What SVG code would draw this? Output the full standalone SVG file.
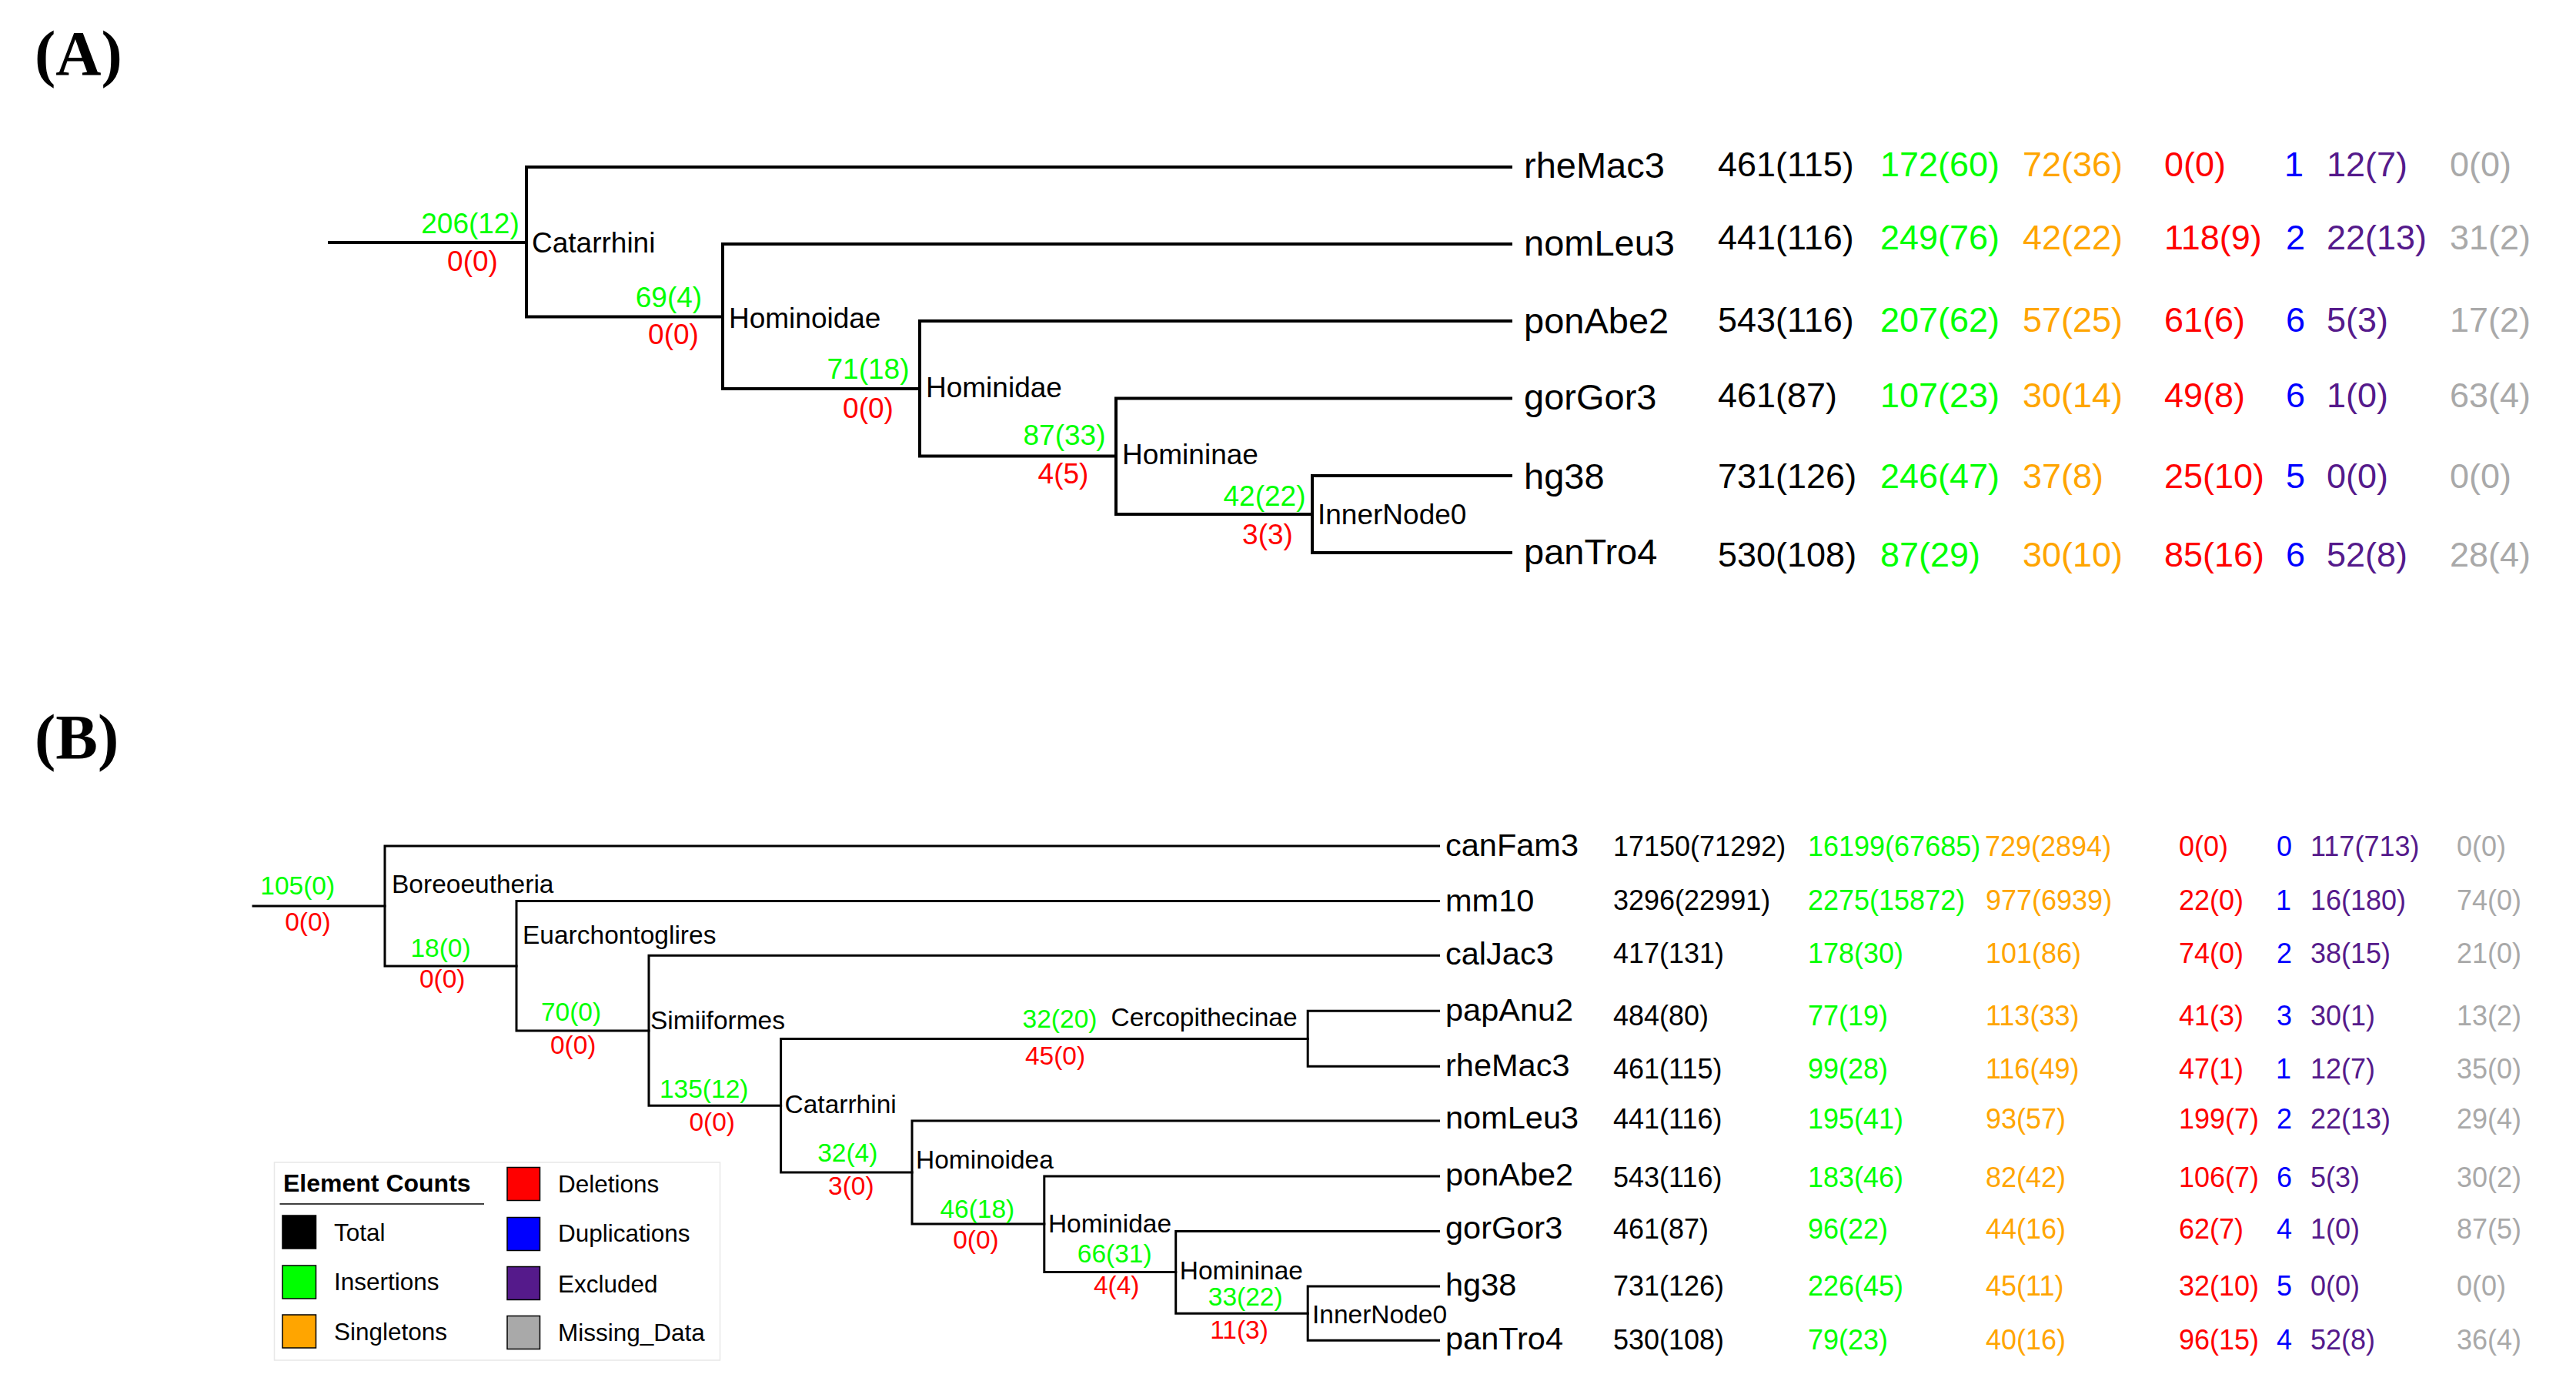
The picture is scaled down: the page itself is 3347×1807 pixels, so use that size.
<svg xmlns="http://www.w3.org/2000/svg" width="3347" height="1807" viewBox="0 0 3347 1807">
<style>
text{font-family:"Liberation Sans",Arial,sans-serif}
.ttl{font-family:"Liberation Serif","Times New Roman",serif;font-weight:bold;font-size:82px;fill:#000}
.ea{stroke:#000;stroke-width:4;fill:none;stroke-linecap:square}
.eb{stroke:#000;stroke-width:3;fill:none;stroke-linecap:square}
.ina{font-size:37px;fill:#000}
.cga{font-size:37px;fill:#00ff00;text-anchor:middle}
.cra{font-size:37px;fill:#ff0000;text-anchor:middle}
.tipa{font-size:47px;fill:#000}
.numa{font-size:45px}
.inb{font-size:33.5px;fill:#000}
.cgb{font-size:33.5px;fill:#00ff00;text-anchor:middle}
.crb{font-size:33.5px;fill:#ff0000;text-anchor:middle}
.tipb{font-size:41.5px;fill:#000}
.numb{font-size:36px}
.k{fill:#000}.g{fill:#00ff00}.o{fill:#ffa500}.r{fill:#ff0000}.b{fill:#0000ff}.p{fill:#551a8b}.y{fill:#a9a9a9}
.lg{font-size:31.5px;fill:#000}
.sw{stroke:#000;stroke-width:1.5}
</style>
<text class="ttl" x="45" y="97">(A)</text>
<text class="ttl" x="45" y="985">(B)</text>

<g id="connectorsA">
<path class="ea" d="M428,315H684"/>
<path class="ea" d="M684,217V411.5M684,217H1963M684,411.5H939"/>
<path class="ea" d="M939,317V505M939,317H1963M939,505H1195"/>
<path class="ea" d="M1195,417V592.5M1195,417H1963M1195,592.5H1450"/>
<path class="ea" d="M1450,517.5V668M1450,517.5H1963M1450,668H1705"/>
<path class="ea" d="M1705,618V718M1705,618H1963M1705,718H1963"/>
</g>

<g id="A-root">
<text class="cga" x="611" y="302.5">206(12)</text>
<text class="cra" x="614" y="352">0(0)</text>
</g>
<g id="A-Catarrhini">
<text class="ina" x="691" y="327.5">Catarrhini</text>
<text class="cga" x="869" y="398.5">69(4)</text>
<text class="cra" x="875" y="447">0(0)</text>
</g>
<g id="A-Hominoidae">
<text class="ina" x="947" y="426">Hominoidae</text>
<text class="cga" x="1128" y="492">71(18)</text>
<text class="cra" x="1128" y="543">0(0)</text>
</g>
<g id="A-Hominidae">
<text class="ina" x="1203" y="516">Hominidae</text>
<text class="cga" x="1383" y="577.5">87(33)</text>
<text class="cra" x="1381.5" y="628">4(5)</text>
</g>
<g id="A-Homininae">
<text class="ina" x="1458" y="603">Homininae</text>
<text class="cga" x="1643" y="657">42(22)</text>
<text class="cra" x="1647" y="707">3(3)</text>
</g>
<g id="A-InnerNode0">
<text class="ina" x="1712" y="680.5">InnerNode0</text>
</g>

<g id="A-rheMac3">
<text class="tipa" x="1980" y="231">rheMac3</text>
<text class="numa" y="228.5"><tspan class="k" x="2232">461(115)</tspan><tspan class="g" x="2443">172(60)</tspan><tspan class="o" x="2628">72(36)</tspan><tspan class="r" x="2812">0(0)</tspan><tspan class="b" x="2968">1</tspan><tspan class="p" x="3023">12(7)</tspan><tspan class="y" x="3183">0(0)</tspan></text>
</g>
<g id="A-nomLeu3">
<text class="tipa" x="1980" y="331.5">nomLeu3</text>
<text class="numa" y="323.5"><tspan class="k" x="2232">441(116)</tspan><tspan class="g" x="2443">249(76)</tspan><tspan class="o" x="2628">42(22)</tspan><tspan class="r" x="2812">118(9)</tspan><tspan class="b" x="2970">2</tspan><tspan class="p" x="3023">22(13)</tspan><tspan class="y" x="3183">31(2)</tspan></text>
</g>
<g id="A-ponAbe2">
<text class="tipa" x="1980" y="432.5">ponAbe2</text>
<text class="numa" y="431"><tspan class="k" x="2232">543(116)</tspan><tspan class="g" x="2443">207(62)</tspan><tspan class="o" x="2628">57(25)</tspan><tspan class="r" x="2812">61(6)</tspan><tspan class="b" x="2970">6</tspan><tspan class="p" x="3023">5(3)</tspan><tspan class="y" x="3183">17(2)</tspan></text>
</g>
<g id="A-gorGor3">
<text class="tipa" x="1980" y="531.5">gorGor3</text>
<text class="numa" y="528.5"><tspan class="k" x="2232">461(87)</tspan><tspan class="g" x="2443">107(23)</tspan><tspan class="o" x="2628">30(14)</tspan><tspan class="r" x="2812">49(8)</tspan><tspan class="b" x="2970">6</tspan><tspan class="p" x="3023">1(0)</tspan><tspan class="y" x="3183">63(4)</tspan></text>
</g>
<g id="A-hg38">
<text class="tipa" x="1980" y="635">hg38</text>
<text class="numa" y="633.5"><tspan class="k" x="2232">731(126)</tspan><tspan class="g" x="2443">246(47)</tspan><tspan class="o" x="2628">37(8)</tspan><tspan class="r" x="2812">25(10)</tspan><tspan class="b" x="2970">5</tspan><tspan class="p" x="3023">0(0)</tspan><tspan class="y" x="3183">0(0)</tspan></text>
</g>
<g id="A-panTro4">
<text class="tipa" x="1980" y="732.5">panTro4</text>
<text class="numa" y="736"><tspan class="k" x="2232">530(108)</tspan><tspan class="g" x="2443">87(29)</tspan><tspan class="o" x="2628">30(10)</tspan><tspan class="r" x="2812">85(16)</tspan><tspan class="b" x="2970">6</tspan><tspan class="p" x="3023">52(8)</tspan><tspan class="y" x="3183">28(4)</tspan></text>
</g>

<g id="connectorsB">
<path class="eb" d="M329,1177H500"/>
<path class="eb" d="M500,1099V1255M500,1099H1869.5M500,1255H671"/>
<path class="eb" d="M671,1170.5V1339M671,1170.5H1869.5M671,1339H843"/>
<path class="eb" d="M843,1241.3V1436.3M843,1241.3H1869.5M843,1436.3H1014.6"/>
<path class="eb" d="M1014.6,1349.5V1523M1014.6,1349.5H1699.2M1014.6,1523H1185"/>
<path class="eb" d="M1699.2,1313.3V1385.2M1699.2,1313.3H1869.5M1699.2,1385.2H1869.5"/>
<path class="eb" d="M1185,1456V1590M1185,1456H1869.5M1185,1590H1356.8"/>
<path class="eb" d="M1356.8,1528V1652.5M1356.8,1528H1869.5M1356.8,1652.5H1527.7"/>
<path class="eb" d="M1527.7,1599.5V1706.3M1527.7,1599.5H1869.5M1527.7,1706.3H1699.2"/>
<path class="eb" d="M1699.2,1671V1741.3M1699.2,1671H1869.5M1699.2,1741.3H1869.5"/>
</g>

<g id="B-root">
<text class="cgb" x="386.7" y="1162.3">105(0)</text>
<text class="crb" x="400" y="1209.3">0(0)</text>
</g>
<g id="B-Boreoeutheria">
<text class="inb" x="509" y="1160">Boreoeutheria</text>
<text class="cgb" x="572.5" y="1242.7">18(0)</text>
<text class="crb" x="574.7" y="1283.3">0(0)</text>
</g>
<g id="B-Euarchontoglires">
<text class="inb" x="679" y="1226">Euarchontoglires</text>
<text class="cgb" x="742" y="1326">70(0)</text>
<text class="crb" x="744.7" y="1369.3">0(0)</text>
</g>
<g id="B-Simiiformes">
<text class="inb" x="845" y="1336.7">Simiiformes</text>
<text class="cgb" x="914.7" y="1426">135(12)</text>
<text class="crb" x="925.2" y="1469.4">0(0)</text>
</g>
<g id="B-Catarrhini">
<text class="inb" x="1019.5" y="1446.4">Catarrhini</text>
<text class="cgb" x="1377" y="1335.2">32(20)</text>
<text class="crb" x="1371" y="1382.7">45(0)</text>
<text class="cgb" x="1101.3" y="1509">32(4)</text>
<text class="crb" x="1105.8" y="1552">3(0)</text>
</g>
<g id="B-Cercopithecinae">
<text class="inb" x="1443.5" y="1332.7">Cercopithecinae</text>
</g>
<g id="B-Hominoidea">
<text class="inb" x="1190" y="1518">Hominoidea</text>
<text class="cgb" x="1269.8" y="1581.6">46(18)</text>
<text class="crb" x="1268" y="1622.4">0(0)</text>
</g>
<g id="B-Hominidae">
<text class="inb" x="1361.9" y="1601">Hominidae</text>
<text class="cgb" x="1448.2" y="1640.3">66(31)</text>
<text class="crb" x="1450.7" y="1681">4(4)</text>
</g>
<g id="B-Homininae">
<text class="inb" x="1532.8" y="1661.7">Homininae</text>
<text class="cgb" x="1618.2" y="1696.4">33(22)</text>
<text class="crb" x="1610" y="1738.8">11(3)</text>
</g>
<g id="B-InnerNode0">
<text class="inb" x="1705" y="1719.4">InnerNode0</text>
</g>

<g id="B-canFam3">
<text class="tipb" x="1878" y="1112">canFam3</text>
<text class="numb" y="1112"><tspan class="k" x="2096">17150(71292)</tspan><tspan class="g" x="2349">16199(67685)</tspan><tspan class="o" x="2579">729(2894)</tspan><tspan class="r" x="2831">0(0)</tspan><tspan class="b" x="2958">0</tspan><tspan class="p" x="3002">117(713)</tspan><tspan class="y" x="3192">0(0)</tspan></text>
</g>
<g id="B-mm10">
<text class="tipb" x="1878" y="1183.5">mm10</text>
<text class="numb" y="1181.5"><tspan class="k" x="2096">3296(22991)</tspan><tspan class="g" x="2349">2275(15872)</tspan><tspan class="o" x="2580">977(6939)</tspan><tspan class="r" x="2831">22(0)</tspan><tspan class="b" x="2957">1</tspan><tspan class="p" x="3002">16(180)</tspan><tspan class="y" x="3192">74(0)</tspan></text>
</g>
<g id="B-calJac3">
<text class="tipb" x="1878" y="1252.5">calJac3</text>
<text class="numb" y="1250.5"><tspan class="k" x="2096">417(131)</tspan><tspan class="g" x="2349">178(30)</tspan><tspan class="o" x="2580">101(86)</tspan><tspan class="r" x="2831">74(0)</tspan><tspan class="b" x="2958">2</tspan><tspan class="p" x="3002">38(15)</tspan><tspan class="y" x="3192">21(0)</tspan></text>
</g>
<g id="B-papAnu2">
<text class="tipb" x="1878" y="1325.5">papAnu2</text>
<text class="numb" y="1331.5"><tspan class="k" x="2096">484(80)</tspan><tspan class="g" x="2349">77(19)</tspan><tspan class="o" x="2580">113(33)</tspan><tspan class="r" x="2831">41(3)</tspan><tspan class="b" x="2958">3</tspan><tspan class="p" x="3002">30(1)</tspan><tspan class="y" x="3192">13(2)</tspan></text>
</g>
<g id="B-rheMac3">
<text class="tipb" x="1878" y="1398">rheMac3</text>
<text class="numb" y="1400.5"><tspan class="k" x="2096">461(115)</tspan><tspan class="g" x="2349">99(28)</tspan><tspan class="o" x="2580">116(49)</tspan><tspan class="r" x="2831">47(1)</tspan><tspan class="b" x="2957">1</tspan><tspan class="p" x="3002">12(7)</tspan><tspan class="y" x="3192">35(0)</tspan></text>
</g>
<g id="B-nomLeu3">
<text class="tipb" x="1878" y="1466">nomLeu3</text>
<text class="numb" y="1466"><tspan class="k" x="2096">441(116)</tspan><tspan class="g" x="2349">195(41)</tspan><tspan class="o" x="2580">93(57)</tspan><tspan class="r" x="2831">199(7)</tspan><tspan class="b" x="2958">2</tspan><tspan class="p" x="3002">22(13)</tspan><tspan class="y" x="3192">29(4)</tspan></text>
</g>
<g id="B-ponAbe2">
<text class="tipb" x="1878" y="1539.5">ponAbe2</text>
<text class="numb" y="1541.5"><tspan class="k" x="2096">543(116)</tspan><tspan class="g" x="2349">183(46)</tspan><tspan class="o" x="2580">82(42)</tspan><tspan class="r" x="2831">106(7)</tspan><tspan class="b" x="2958">6</tspan><tspan class="p" x="3002">5(3)</tspan><tspan class="y" x="3192">30(2)</tspan></text>
</g>
<g id="B-gorGor3">
<text class="tipb" x="1878" y="1609">gorGor3</text>
<text class="numb" y="1609"><tspan class="k" x="2096">461(87)</tspan><tspan class="g" x="2349">96(22)</tspan><tspan class="o" x="2580">44(16)</tspan><tspan class="r" x="2831">62(7)</tspan><tspan class="b" x="2958">4</tspan><tspan class="p" x="3002">1(0)</tspan><tspan class="y" x="3192">87(5)</tspan></text>
</g>
<g id="B-hg38">
<text class="tipb" x="1878" y="1682.5">hg38</text>
<text class="numb" y="1682.5"><tspan class="k" x="2096">731(126)</tspan><tspan class="g" x="2349">226(45)</tspan><tspan class="o" x="2580">45(11)</tspan><tspan class="r" x="2831">32(10)</tspan><tspan class="b" x="2958">5</tspan><tspan class="p" x="3002">0(0)</tspan><tspan class="y" x="3192">0(0)</tspan></text>
</g>
<g id="B-panTro4">
<text class="tipb" x="1878" y="1752.5">panTro4</text>
<text class="numb" y="1752.5"><tspan class="k" x="2096">530(108)</tspan><tspan class="g" x="2349">79(23)</tspan><tspan class="o" x="2580">40(16)</tspan><tspan class="r" x="2831">96(15)</tspan><tspan class="b" x="2958">4</tspan><tspan class="p" x="3002">52(8)</tspan><tspan class="y" x="3192">36(4)</tspan></text>
</g>

<g id="legend">
<rect x="356.5" y="1510" width="579" height="257" fill="#fff" stroke="#e8e8e8" stroke-width="1.5"/>
<text x="368" y="1547.5" font-size="32" font-weight="bold" fill="#000">Element Counts</text>
<line x1="363.5" y1="1564" x2="629" y2="1564" stroke="#000" stroke-width="1.5"/>
<rect class="sw" x="367" y="1579" width="43.5" height="43" fill="#000"/>
<rect class="sw" x="367" y="1644" width="43.5" height="43" fill="#00ff00"/>
<rect class="sw" x="367" y="1708" width="43.5" height="43" fill="#ffa500"/>
<rect class="sw" x="659" y="1516.5" width="42.5" height="43" fill="#ff0000"/>
<rect class="sw" x="659" y="1581.5" width="42.5" height="43" fill="#0000ff"/>
<rect class="sw" x="659" y="1645.5" width="42.5" height="43" fill="#551a8b"/>
<rect class="sw" x="659" y="1709.5" width="42.5" height="43" fill="#a9a9a9"/>
<text class="lg" x="434" y="1612">Total</text>
<text class="lg" x="434" y="1676">Insertions</text>
<text class="lg" x="434" y="1741">Singletons</text>
<text class="lg" x="725" y="1548.5">Deletions</text>
<text class="lg" x="725" y="1613">Duplications</text>
<text class="lg" x="725" y="1678.5">Excluded</text>
<text class="lg" x="725" y="1742">Missing_Data</text>
</g>
</svg>
